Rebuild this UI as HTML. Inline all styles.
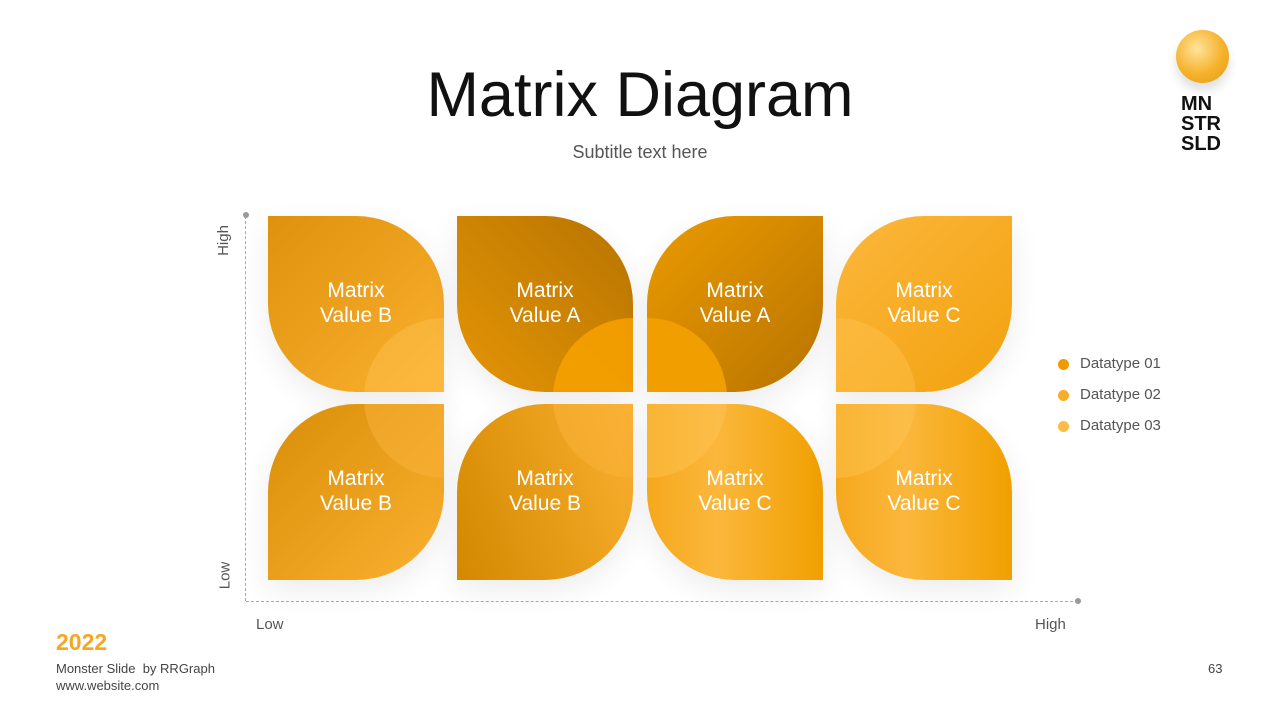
<!DOCTYPE html>
<html><head><meta charset="utf-8"><style>
body{margin:0;width:1280px;height:720px;background:#fff;position:relative;overflow:hidden;font-family:"Liberation Sans",sans-serif}
.a{position:absolute}
.t{position:absolute;width:176px;height:176px;overflow:hidden;box-shadow:0 10px 30px rgba(0,0,0,0.08)}
.t .c{position:absolute;width:160px;height:160px;border-radius:50%;background:rgba(255,196,80,0.45)}
.t span{position:absolute;left:0;right:0;top:62px;text-align:center;color:#fff;font-size:21px;line-height:25px}
.d{position:absolute;width:11px;height:11px;border-radius:50%}
.l{position:absolute;font-size:15px;color:#555}
</style></head><body>
<div class="a" style="left:0;right:0;top:59px;text-align:center;font-size:63px;color:#111">Matrix Diagram</div>
<div class="a" style="left:0;right:0;top:142px;text-align:center;font-size:18px;color:#555">Subtitle text here</div>
<div class="a" style="left:1176px;top:30px;width:53px;height:53px;border-radius:50%;background:radial-gradient(circle at 40% 35%,#ffe39a,#f5b22c 55%,#e29a10);box-shadow:0 8px 10px rgba(0,0,0,0.12)"></div>
<div class="a" style="left:1181px;top:94px;font-size:20px;font-weight:bold;line-height:20px;color:#111">MN<br>STR<br>SLD</div>

<div class="a" style="left:245px;top:216px;height:385px;border-left:1px dashed #aaa"></div>
<div class="a" style="left:246px;top:601px;width:832px;border-top:1px dashed #aaa"></div>
<div class="a" style="left:243px;top:212px;width:6px;height:6px;border-radius:50%;background:#999"></div>
<div class="a" style="left:1075px;top:598px;width:6px;height:6px;border-radius:50%;background:#999"></div>
<div class="a" style="left:208px;top:232px;transform:rotate(-90deg);font-size:15px;color:#555">High</div>
<div class="a" style="left:211px;top:567px;transform:rotate(-90deg);font-size:15px;color:#555">Low</div>
<div class="a" style="left:256px;top:616px;font-size:15px;color:#555">Low</div>
<div class="a" style="left:1035px;top:616px;font-size:15px;color:#555">High</div>

<div class="t" style="left:268px;top:216px;border-radius:0 88px 0 88px;background:linear-gradient(135deg,#de920c,#fbb030)"><div class="c" style="left:96px;top:102px"></div><span>Matrix<br>Value B</span></div>
<div class="t" style="left:457px;top:216px;border-radius:0 88px 0 88px;background:linear-gradient(45deg,#e49506,#b87400)"><div class="c" style="left:96px;top:102px;background:rgba(245,160,0,0.9)"></div><span>Matrix<br>Value A</span></div>
<div class="t" style="left:647px;top:216px;border-radius:88px 0 88px 0;background:linear-gradient(135deg,#eb9a00,#b87400)"><div class="c" style="left:-80px;top:102px;background:rgba(242,160,0,0.95)"></div><span>Matrix<br>Value A</span></div>
<div class="t" style="left:836px;top:216px;border-radius:88px 0 88px 0;background:linear-gradient(135deg,#fbb73c,#f3a10e)"><div class="c" style="left:-80px;top:102px"></div><span>Matrix<br>Value C</span></div>

<div class="t" style="left:268px;top:404px;border-radius:88px 0 88px 0;background:linear-gradient(135deg,#d98e08,#fbb030)"><div class="c" style="left:96px;top:-86px;background:rgba(250,180,60,0.5)"></div><span>Matrix<br>Value B</span></div>
<div class="t" style="left:457px;top:404px;border-radius:88px 0 88px 0;background:linear-gradient(70deg,#d38800,#fbb030)"><div class="c" style="left:96px;top:-86px;background:rgba(250,180,60,0.5)"></div><span>Matrix<br>Value B</span></div>
<div class="t" style="left:647px;top:404px;border-radius:0 88px 0 88px;background:linear-gradient(90deg,#f5a81c,#fbb73c 40%,#f0a000)"><div class="c" style="left:-80px;top:-86px;background:rgba(255,200,90,0.4)"></div><span>Matrix<br>Value C</span></div>
<div class="t" style="left:836px;top:404px;border-radius:0 88px 0 88px;background:linear-gradient(90deg,#f5a81c,#fbb73c 40%,#f0a000)"><div class="c" style="left:-80px;top:-86px;background:rgba(255,200,90,0.4)"></div><span>Matrix<br>Value C</span></div>

<div class="d" style="left:1058px;top:359px;background:#ee9a00"></div><div class="l" style="left:1080px;top:355px">Datatype 01</div>
<div class="d" style="left:1058px;top:390px;background:#f8ac28"></div><div class="l" style="left:1080px;top:386px">Datatype 02</div>
<div class="d" style="left:1058px;top:421px;background:#fbbc48"></div><div class="l" style="left:1080px;top:417px">Datatype 03</div>

<div class="a" style="left:56px;top:629px;font-size:23px;font-weight:bold;color:#f5a623">2022</div>
<div class="a" style="left:56px;top:661px;font-size:13px;color:#444">Monster Slide &nbsp;by RRGraph</div>
<div class="a" style="left:56px;top:678px;font-size:13px;color:#444">www.website.com</div>
<div class="a" style="left:1208px;top:661px;font-size:13px;color:#444">63</div>
</body></html>
